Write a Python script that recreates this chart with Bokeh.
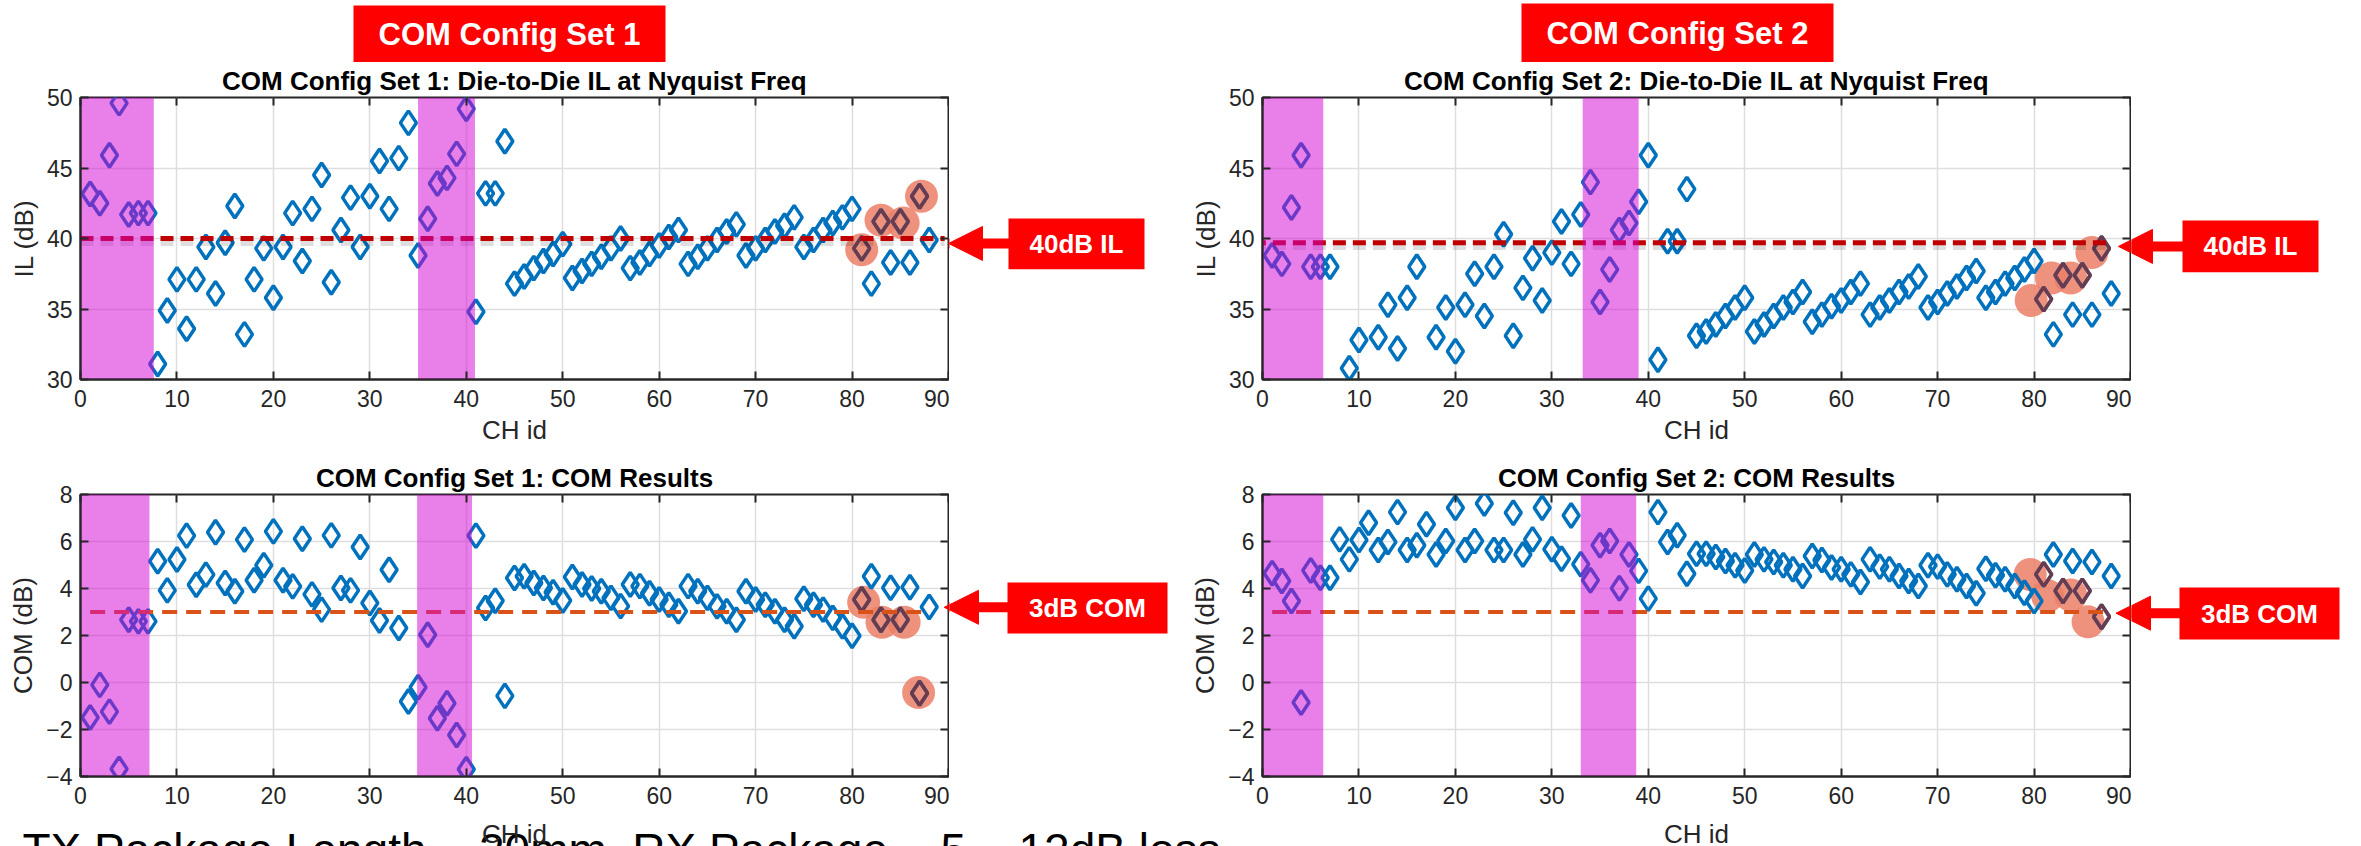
from bokeh.plotting import figure
from bokeh.models import Range1d, LinearAxis, Arrow, NormalHead, FixedTicker
from bokeh.layouts import column, row
from bokeh.embed import file_html
from bokeh.resources import INLINE
from bokeh.core.properties import value

NaN = float("nan")

# ---------------- data ----------------
ch_id = list(range(1, 89))

il_set1 = [43.15, 42.5, 45.9, 49.6, 41.7, 41.8, 41.8, 31.1, 34.9, 37.1,
           33.6, 37.1, 39.4, 36.1, 39.7, 42.3, 33.2, 37.1, 39.3, 35.8,
           39.4, 41.8, 38.4, 42.1, 44.5, 36.9, 40.6, 42.9, 39.4, 43.0,
           45.5, 42.1, 45.7, 48.2, 38.8, 41.4, 43.9, 44.3, 46.0, 49.2,
           34.8, 43.2, 43.2, 46.9, 36.8, 37.3, 37.9, 38.4, 38.9, 39.6,
           37.2, 37.7, 38.2, 38.7, 39.3, 40.0, 37.9, 38.3, 38.9, 39.5,
           40.1, 40.6, 38.2, 38.7, 39.3, 39.9, 40.5, 41.0, 38.8, 39.3,
           39.9, 40.5, 40.9, 41.5, 39.4, 39.9, 40.6, 41.1, 41.5, 42.1,
           39.3, 36.8, 41.2, 38.3, 41.2, 38.3, 43.0, 39.9]

com_set1 = [-1.49, -0.1, -1.24, -3.68, 2.67, 2.6, 2.6, 5.16, 3.92, 5.23,
            6.25, 4.16, 4.59, 6.39, 4.23, 3.88, 6.08, 4.35, 4.99, 6.43,
            4.35, 4.09, 6.12, 3.75, 3.1, 6.26, 4.02, 3.92, 5.77, 3.38,
            2.64, 4.8, 2.32, -0.81, -0.2, 2.03, -1.52, -0.88, -2.23, -3.69,
            6.25, 3.17, 3.48, -0.57, 4.45, 4.52, 4.23, 4.02, 3.84, 3.49,
            4.49, 4.17, 4.0, 3.88, 3.6, 3.25, 4.17, 4.1, 3.8, 3.53,
            3.31, 3.03, 4.1, 3.88, 3.6, 3.24, 3.03, 2.67, 3.88, 3.53,
            3.31, 3.03, 2.67, 2.39, 3.56, 3.31, 3.1, 2.75, 2.39, 1.99,
            3.53, 4.52, 2.67, 4.03, 2.67, 4.05, -0.46, 3.21]

il_set2 = [38.8, 38.2, 42.2, 45.9, 38.0, 38.0, 38.0, NaN, 30.8, 32.8,
           NaN, 33.0, 35.3, 32.2, 35.8, 38.0, NaN, 33.0, 35.1, 32.0,
           35.3, 37.5, 34.5, 38.0, 40.3, 33.1, 36.5, 38.6, 35.6, 39.0,
           41.2, 38.2, 41.7, 44.0, 35.5, 37.8, 40.6, 41.1, 42.6, 45.9,
           31.4, 39.8, 39.8, 43.5, 33.1, 33.4, 33.9, 34.5, 35.1, 35.8,
           33.4, 33.9, 34.5, 35.1, 35.5, 36.2, 34.1, 34.6, 35.2, 35.6,
           36.2, 36.8, 34.6, 35.1, 35.6, 36.2, 36.6, 37.3, 35.1, 35.5,
           36.1, 36.6, 37.2, 37.7, 35.8, 36.2, 36.8, 37.2, 37.8, 38.4,
           35.7, 33.2, 37.4, 34.6, 37.4, 34.6, 39.3, 36.1]

com_set2 = [4.65, 4.32, 3.47, -0.85, 4.77, 4.46, 4.46, 6.09, 5.24, 6.06,
            6.8, 5.64, 5.98, 7.25, 5.64, 5.84, 6.73, 5.45, 6.02, 7.44,
            5.64, 6.02, 7.62, 5.64, 5.64, 7.22, 5.45, 6.09, 7.44, 5.67,
            5.27, 7.11, 5.03, 4.35, 5.84, 6.02, 4.01, 5.45, 4.75, 3.57,
            7.25, 5.98, 6.27, 4.63, 5.48, 5.48, 5.34, 5.17, 4.99, 4.77,
            5.45, 5.24, 5.13, 4.99, 4.82, 4.53, 5.38, 5.21, 4.89, 4.82,
            4.6, 4.28, 5.24, 4.93, 4.82, 4.53, 4.32, 4.11, 4.99, 4.93,
            4.6, 4.39, 4.11, 3.8, 4.84, 4.56, 4.39, 4.11, 3.82, 3.47,
            4.6, 5.45, 3.9, 5.17, 3.9, 5.13, 2.8, 4.53]

# highlighted channels and highlight-circle centres
hl_ch = [81, 83, 85, 87]
hl_il1_x = [81.0, 83.0, 85.3, 87.2]
hl_il1_y = [39.2, 41.3, 41.1, 43.0]
hl_com1_x = [81.2, 83.1, 85.4, 86.9]
hl_com1_y = [3.41, 2.56, 2.56, -0.43]
hl_il2_x = [79.7, 81.8, 83.8, 86.0]
hl_il2_y = [35.6, 37.2, 37.2, 39.0]
hl_com2_x = [79.6, 81.4, 83.8, 85.6]
hl_com2_y = [4.6, 3.69, 3.72, 2.58]

# shaded channel groups
shade_il1_left, shade_il1_right = [0.0, 35.0], [7.6, 40.9]
shade_com1_left, shade_com1_right = [0.0, 34.9], [7.15, 40.6]
shade_il2_left, shade_il2_right = [-1.3, 33.2], [6.3, 39.0]
shade_com2_left, shade_com2_right = [-1.1, 33.0], [6.3, 38.75]

# limit lines
il_limit_1, il_limit_1_span = 40.0, (0.0, 89.6)
il_limit_2, il_limit_2_span = 39.7, (-1.0, 87.9)
com_limit, com_limit_span = 3.0, (1.0, 88.0)

x_ticks = list(range(0, 91, 10))
il_ticks = [30, 35, 40, 45, 50]
com_ticks = [-4, -2, 0, 2, 4, 6, 8]

# texts
header_texts = ["COM Config Set 1", "COM Config Set 2"]
il_callout = "40dB IL"
com_callout = "3dB COM"
x_label = "CH id"
footer_text = "TX Package Length ~ 20mm,  RX Package ~ 5 ~ 12dB loss"

# ---------------- style ----------------
FONT = "Liberation Sans"
DARK = "#262626"
BLUE = "#0072BD"
HL_DIAMOND = "#6B3A4C"
HL_CIRCLE = "#EC7F66"
MAGENTA = "#D400D4"
RED = "#FF0000"

# page rows: 0-62, 62-455, 455-822, 822-846
ROW_A, ROW_B, ROW_C, ROW_D = 62, 393, 367, 24
B_TOP, B_BOT = 33, 76
C_TOP, C_BOT = 39, 46


def blank(w, h, xr, yr, bt=0, bb=0):
    p = figure(width=w, height=h, x_range=Range1d(*xr), y_range=Range1d(*yr),
               output_backend="svg", toolbar_location=None,
               x_axis_type=None, y_axis_type=None,
               min_border_left=0, min_border_right=0, min_border_top=bt, min_border_bottom=bb)
    p.grid.visible = False
    p.outline_line_color = None
    p.background_fill_color = "white"
    p.border_fill_color = "white"
    return p


def panel(w, h, bl, br, bt, bb, title, ylabel, yr, yticks, vals, hlx, hly,
          sh_l, sh_r, thr, span, thr_color, thr_dash, thr_w, with_xlabel=True, shadow=False):
    p = figure(width=w, height=h, x_range=Range1d(0, 90), y_range=Range1d(*yr),
               output_backend="svg", toolbar_location=None,
               min_border_left=bl, min_border_right=br,
               min_border_top=bt, min_border_bottom=bb)
    p.background_fill_color = "white"
    p.border_fill_color = "white"
    p.title.text = title
    p.title.text_font = FONT
    p.title.text_font_size = "26px"
    p.title.text_font_style = "bold"
    p.title.text_color = "black"
    p.title.align = "center"
    p.title.standoff = 3

    p.xaxis.ticker = FixedTicker(ticks=x_ticks)
    p.yaxis.ticker = FixedTicker(ticks=yticks)
    if with_xlabel:
        p.xaxis.axis_label = x_label
    p.yaxis.axis_label = ylabel
    for ax in p.axis:
        ax.axis_line_color = DARK
        ax.axis_line_width = 2
        ax.major_tick_line_color = DARK
        ax.major_tick_line_width = 2
        ax.major_tick_in = 8
        ax.major_tick_out = 0
        ax.minor_tick_line_color = None
        ax.major_label_text_font = FONT
        ax.major_label_text_font_size = "23px"
        ax.major_label_text_color = DARK
        ax.axis_label_text_font = FONT
        ax.axis_label_text_font_size = "26px"
        ax.axis_label_text_font_style = "normal"
        ax.axis_label_text_color = DARK
    p.xaxis.major_label_standoff = 10
    p.xaxis.axis_label_standoff = 5
    p.yaxis.major_label_standoff = 8
    p.yaxis.axis_label_standoff = 5

    top = LinearAxis(ticker=FixedTicker(ticks=x_ticks), axis_line_color=None,
                     major_tick_line_color=DARK, major_tick_line_width=2,
                     major_tick_in=8, major_tick_out=0, minor_tick_line_color=None,
                     major_label_overrides={t: "" for t in x_ticks}, major_label_standoff=0)
    p.add_layout(top, "above")
    right = LinearAxis(ticker=FixedTicker(ticks=yticks), axis_line_color=None,
                       major_tick_line_color=DARK, major_tick_line_width=2,
                       major_tick_in=8, major_tick_out=0, minor_tick_line_color=None,
                       major_label_overrides={t: "" for t in yticks}, major_label_standoff=0)
    p.add_layout(right, "right")

    p.outline_line_color = DARK
    p.outline_line_width = 2
    p.outline_line_alpha = 1
    p.grid.grid_line_color = "#dedede"
    p.grid.grid_line_width = 1.5

    p.scatter(hlx, hly, marker="circle", size=33, fill_color=HL_CIRCLE,
              fill_alpha=0.85, line_color=None)
    p.scatter(ch_id, vals, marker="diamond", size=24, fill_color=None,
              line_color=BLUE, line_width=3.5)
    hv = [vals[ch_id.index(c)] for c in hl_ch]
    p.scatter(hl_ch, hv, marker="diamond", size=24, fill_color=None,
              line_color=HL_DIAMOND, line_width=3.5)
    if shadow:
        off = (yr[1] - yr[0]) * 0.012
        p.segment(x0=[span[0]], y0=[thr - off], x1=[span[1]], y1=[thr - off],
                  line_color="black", line_alpha=0.13, line_dash=thr_dash, line_width=thr_w + 3)
    p.segment(x0=[span[0]], y0=[thr], x1=[span[1]], y1=[thr],
              line_color=thr_color, line_dash=thr_dash, line_width=thr_w)
    p.quad(left=sh_l, right=sh_r, bottom=yr[0], top=yr[1],
           fill_color=MAGENTA, fill_alpha=0.5, line_color=None)
    return p


def arrow(p, tip_x, y, start_x):
    p.add_layout(Arrow(end=NormalHead(size=34, fill_color=RED, line_color=RED, line_width=1),
                       x_start=start_x, y_start=y, x_end=tip_x, y_end=y,
                       line_color=RED, line_width=10))


def red_box(p, l, r, t, b, text, size):
    p.quad(left=[l], right=[r], top=[t], bottom=[b], fill_color=RED, line_color=None)
    p.text(x=[(l + r) / 2], y=[(t + b) / 2], text=[text], text_color="white",
           text_font=value(FONT), text_font_style="bold", text_font_size=size,
           text_align="center", text_baseline="middle")


# ---- row A: headers (page coordinates) ----
hA1 = blank(1180, ROW_A, (0, 1180), (62, 0))
red_box(hA1, 353, 665, 5, 62, header_texts[0], "31px")
hA2 = blank(1181, ROW_A, (1180, 2361), (62, 0))
red_box(hA2, 1521, 1833, 3, 62, header_texts[1], "31px")

# ---- row B (callout figures share the plot's vertical data scale) ----
p1 = panel(949, ROW_B, 80, 1, B_TOP, B_BOT,
           "COM Config Set 1: Die-to-Die IL at Nyquist Freq", "IL (dB)",
           (30, 50), il_ticks, il_set1, hl_il1_x, hl_il1_y,
           shade_il1_left, shade_il1_right, il_limit_1, il_limit_1_span,
           "#C00000", "13 7", 5, shadow=True)
a1 = blank(231, ROW_B, (949, 1180), (30, 50), B_TOP, B_BOT)
arrow(a1, 948, 39.65, 1012)
red_box(a1, 1008, 1144, 41.41, 37.82, il_callout, "26px")
arrow(p1, 90.0, 39.65, 96.5)

p2 = panel(951, ROW_B, 82, 1, B_TOP, B_BOT,
           "COM Config Set 2: Die-to-Die IL at Nyquist Freq", "IL (dB)",
           (30, 50), il_ticks, il_set2, hl_il2_x, hl_il2_y,
           shade_il2_left, shade_il2_right, il_limit_2, il_limit_2_span,
           "#C00000", "13 7", 5, shadow=True)
a2 = blank(230, ROW_B, (2131, 2361), (30, 50), B_TOP, B_BOT)
arrow(a2, 2118, 39.44, 2186)
red_box(a2, 2182, 2318, 41.27, 37.61, il_callout, "26px")
arrow(p2, 88.75, 39.44, 95.8)

# ---- row C ----
p3 = panel(949, ROW_C, 80, 1, C_TOP, C_BOT,
           "COM Config Set 1: COM Results", "COM (dB)",
           (-4, 8), com_ticks, com_set1, hl_com1_x, hl_com1_y,
           shade_com1_left, shade_com1_right, com_limit, com_limit_span,
           "#D95319", "15 9", 4, with_xlabel=False)
a3 = blank(231, ROW_C, (949, 1180), (-4, 8), C_TOP, C_BOT)
arrow(a3, 944, 3.2, 1011)
red_box(a3, 1007, 1167, 4.26, 2.09, com_callout, "26px")
arrow(p3, 89.55, 3.2, 96.5)

p4 = panel(951, ROW_C, 82, 1, C_TOP, C_BOT,
           "COM Config Set 2: COM Results", "COM (dB)",
           (-4, 8), com_ticks, com_set2, hl_com2_x, hl_com2_y,
           shade_com2_left, shade_com2_right, com_limit, com_limit_span,
           "#D95319", "15 9", 4, with_xlabel=False)
a4 = blank(230, ROW_C, (2131, 2361), (-4, 8), C_TOP, C_BOT)
arrow(a4, 2116, 2.95, 2183)
red_box(a4, 2179, 2339, 4.04, 1.83, com_callout, "26px")
arrow(p4, 88.5, 2.95, 95.5)

# ---- row D: bottom x labels and clipped footer ----
d = blank(2361, ROW_D, (0, 2361), (846, 822))
d.text(x=[22], y=[823], text=[footer_text], text_color="black",
       text_font=value(FONT), text_font_size="46px", text_align="left", text_baseline="top")
d.text(x=[514, 1696], y=[833, 833], text=[x_label, x_label], text_color=DARK,
       text_font=value(FONT), text_font_size="26px", text_align="center", text_baseline="middle")

layout = column(row(hA1, hA2, spacing=0),
                row(p1, a1, p2, a2, spacing=0),
                row(p3, a3, p4, a4, spacing=0),
                d, spacing=0)

open("out.html", "w").write(file_html(layout, INLINE))
